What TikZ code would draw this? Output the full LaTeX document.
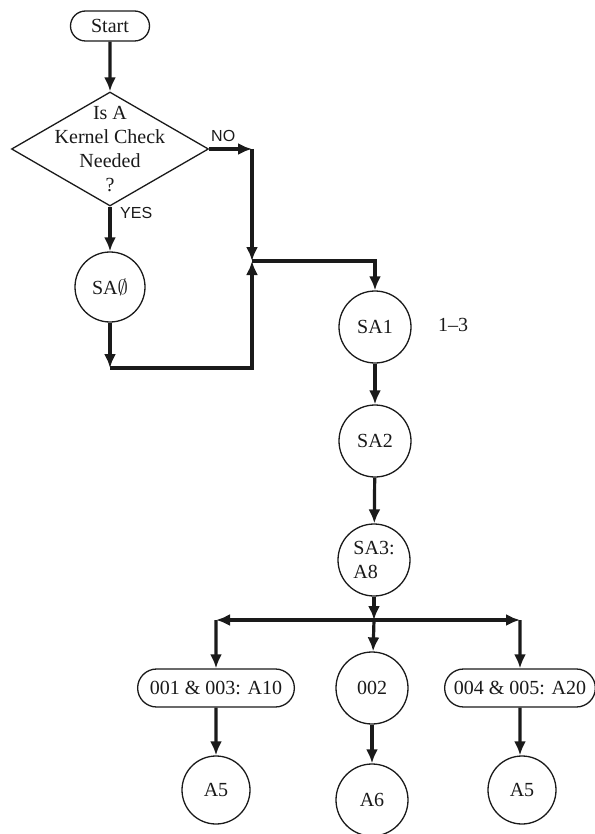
\documentclass[tikz,border=0pt]{standalone}
\usepackage{fontspec}
\setmainfont{Liberation Serif}
\newfontfamily\flagfont{Liberation Sans}
\usepackage{tikz}
\usetikzlibrary{shapes,arrows.meta,positioning,calc}
\definecolor{chartink}{HTML}{1A1A1A}
\definecolor{chartpaper}{HTML}{FFFFFF}
\tikzset{
  terminal/.style={rounded rectangle, draw=chartink, line width=1.3pt,
                   fill=chartpaper, text=chartink, align=center,
                   font=\fontsize{20}{24}\selectfont, minimum height=30pt, inner xsep=9pt, inner ysep=2pt},
  decision/.style={diamond, draw=chartink, line width=1.3pt, fill=chartpaper,
                   minimum width=197pt, minimum height=114pt, inner sep=0pt},
  qtext/.style={align=center, text=chartink, font=\fontsize{20}{24}\selectfont},
  stepnode/.style={circle, draw=chartink, line width=1.3pt, fill=chartpaper,
                   text=chartink, font=\fontsize{20}{24}\selectfont, minimum size=72pt, inner sep=1pt},
  flag/.style={text=chartink, font=\flagfont\fontsize{16}{18}\selectfont, inner sep=1pt},
  note/.style={text=chartink, font=\fontsize{20}{24}\selectfont, inner sep=1pt},
  arrow/.style={-{Latex[length=14pt,width=12pt]}, line width=3.2pt, color=chartink},
}
\begin{document}
\begin{tikzpicture}[x=1pt, y=-1pt]
\useasboundingbox (0,0) rectangle (594,834);

\node[terminal, minimum width=97pt] (start) at (110,26) {Start};
\node[decision, label={[qtext]center:{Is A\\Kernel Check\\Needed\\?}}] (check) at (110,149) {};
\node[stepnode, minimum size=70pt] (sa0) at (110,287) {SA$\emptyset$};

\coordinate (nobend) at (252,149);
\coordinate (merge) at (252,261);
\coordinate (sa0bend) at (110,368);

\draw[arrow] (start) -- (check.north);
\draw[arrow] (check.east) -- (nobend);
\draw[arrow] (nobend) -- (merge);
\draw[arrow] (check.south) -- (sa0);
\draw[arrow] (sa0) -- (sa0bend);
\draw[arrow] (sa0bend) -- (sa0bend -| merge) -- (merge);

\node[flag, anchor=south west] (no) at (210,143) {NO};
\node[flag, anchor=west] (yes) at (119,213) {YES};

\node[stepnode] (sa1) at (375,327) {SA1};
\node[note] (range) at (453,325) {1--3};
\node[stepnode] (sa2) at (375,441) {SA2};
\node[stepnode, align=left] (sa3) at (374,560) {SA3:\\A8};

\draw[arrow] (merge) -| (sa1);
\draw[arrow] (sa1) -- (sa2);
\draw[arrow] (sa2) -- (sa3);

\coordinate (split) at (374,620);
\coordinate (leftbend) at (216,620);
\coordinate (rightbend) at (520,620);

\node[terminal, minimum height=38pt, inner xsep=11pt] (grpa) at (216,688) {001 \& 003: A10};
\node[stepnode] (c002) at (372,688) {002};
\node[terminal, minimum height=38pt, inner xsep=8pt] (grpb) at (520,688) {004 \& 005: A20};

\draw[arrow] (sa3) -- (split);
\draw[arrow] (split) -- (leftbend);
\draw[arrow] (split) -- (rightbend);
\draw[arrow] (leftbend) -- (grpa);
\draw[arrow] (split) -- (c002);
\draw[arrow] (rightbend) -- (grpb);

\node[stepnode, minimum size=68pt] (a5a) at (216,790) {A5};
\node[stepnode] (a6) at (372,800) {A6};
\node[stepnode, minimum size=68pt] (a5b) at (522,790) {A5};

\draw[arrow] (grpa) -- (a5a);
\draw[arrow] (c002) -- (a6);
\draw[arrow] (grpb) -- (grpb |- a5b.north);
\end{tikzpicture}
\end{document}
